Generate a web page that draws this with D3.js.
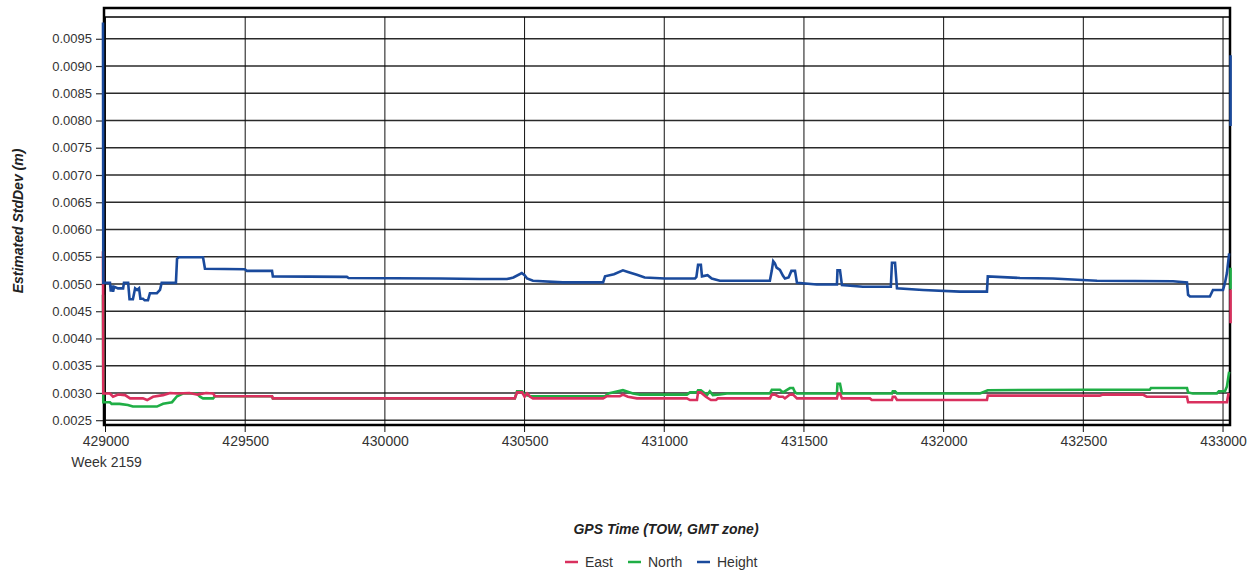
<!DOCTYPE html>
<html>
<head>
<meta charset="utf-8">
<script src="https://cdn.jsdelivr.net/npm/d3@7/dist/d3.min.js"></script>
<style>
  html, body { margin: 0; padding: 0; background: #ffffff; }
  svg { display: block; font-family: "Liberation Sans", Arial, sans-serif; }
</style>
</head>
<body>
<svg id="chart" width="1258" height="575"></svg>
<script>
// ---------- DATA ----------
const seriesNames = ["East", "North", "Height"];
const seriesColors = ["#d9305e", "#1fae45", "#1a4a9c"];

const xTickValues = [429000, 429500, 430000, 430500, 431000, 431500, 432000, 432500, 433000];
const yTickValues = [0.0025, 0.0030, 0.0035, 0.0040, 0.0045, 0.0050, 0.0055, 0.0060,
                     0.0065, 0.0070, 0.0075, 0.0080, 0.0085, 0.0090, 0.0095];
const weekLabel = "Week 2159";

const eastData = [
  [428991, 0.0056], [428992, 0.00299], [429016, 0.00299], [429027, 0.00293], [429045, 0.00297],
  [429070, 0.00296], [429088, 0.0029], [429134, 0.0029], [429149, 0.00287], [429170, 0.00293],
  [429206, 0.00296], [429231, 0.0030], [429256, 0.00299], [429300, 0.0030], [429330, 0.00297],
  [429360, 0.0030], [429385, 0.00299], [429392, 0.00294], [429596, 0.00294], [429599, 0.0029],
  [430465, 0.0029], [430473, 0.00301], [430491, 0.00301], [430500, 0.00293], [430509, 0.00299],
  [430520, 0.00293], [430530, 0.0029], [430781, 0.0029], [430795, 0.00294], [430841, 0.00294],
  [430852, 0.00297], [430870, 0.00293], [430902, 0.0029], [431081, 0.0029], [431092, 0.00287],
  [431117, 0.00287], [431121, 0.00301], [431131, 0.00301], [431149, 0.00293], [431167, 0.00287],
  [431185, 0.00287], [431192, 0.0029], [431378, 0.0029], [431385, 0.00297], [431396, 0.00297],
  [431410, 0.00293], [431425, 0.00293], [431432, 0.0029], [431450, 0.00297], [431461, 0.00297],
  [431475, 0.0029], [431618, 0.0029], [431622, 0.00299], [431629, 0.00299], [431636, 0.0029],
  [431736, 0.0029], [431743, 0.00287], [431815, 0.00287], [431818, 0.00293], [431826, 0.00293],
  [431833, 0.00287], [432155, 0.00287], [432158, 0.00295], [432559, 0.00295], [432570, 0.00297],
  [432713, 0.00297], [432727, 0.00293], [432871, 0.00293], [432875, 0.00283], [433014, 0.00283],
  [433020, 0.0030], [433022, null], [433027, 0.0049], [433027, 0.00428]
];

const northData = [
  [428991, 0.0048], [428992, 0.00283], [429016, 0.00283], [429022, 0.0028], [429050, 0.0028],
  [429080, 0.00278], [429098, 0.00275], [429184, 0.00275], [429206, 0.0028], [429238, 0.00283],
  [429256, 0.00294], [429277, 0.00299], [429327, 0.00299], [429338, 0.00293], [429349, 0.0029],
  [429385, 0.0029], [429392, 0.00294], [429596, 0.00294], [429599, 0.0029], [430465, 0.0029],
  [430473, 0.00303], [430491, 0.00303], [430500, 0.00297], [430520, 0.00294], [430788, 0.00294],
  [430800, 0.00299], [430852, 0.00305], [430888, 0.00299], [430913, 0.00297], [431081, 0.00297],
  [431092, 0.00301], [431117, 0.00301], [431121, 0.00305], [431131, 0.00305], [431153, 0.00296],
  [431163, 0.00303], [431174, 0.00296], [431199, 0.00297], [431224, 0.00299], [431378, 0.00299],
  [431385, 0.00306], [431414, 0.00306], [431425, 0.00301], [431450, 0.00309], [431461, 0.00309],
  [431468, 0.00301], [431475, 0.00299], [431618, 0.00299], [431620, 0.00317], [431629, 0.00317],
  [431636, 0.00299], [431815, 0.00299], [431818, 0.00303], [431826, 0.00303], [431833, 0.00299],
  [432130, 0.00299], [432158, 0.00305], [432513, 0.00306], [432738, 0.00306], [432742, 0.00309],
  [432871, 0.00309], [432875, 0.00301], [432892, 0.00299], [432978, 0.00299], [432985, 0.00303],
  [433007, 0.00303], [433014, 0.00312], [433022, 0.00339], [433023, null], [433027, 0.0053],
  [433027, 0.0049]
];

const heightData = [
  [428991, 0.0098], [428992, 0.00502], [429016, 0.00502], [429019, 0.00486], [429022, 0.00497],
  [429027, 0.00486], [429031, 0.00495], [429045, 0.00492], [429063, 0.00492], [429066, 0.00502],
  [429081, 0.00502], [429086, 0.00472], [429098, 0.00472], [429106, 0.00492], [429113, 0.00489],
  [429120, 0.00492], [429125, 0.00473], [429134, 0.00473], [429140, 0.0047], [429152, 0.0047],
  [429159, 0.00483], [429184, 0.00483], [429195, 0.00489], [429201, 0.00502], [429252, 0.00502],
  [429256, 0.00546], [429262, 0.00549], [429349, 0.00549], [429356, 0.00528], [429499, 0.00527],
  [429506, 0.00524], [429596, 0.00524], [429599, 0.00514], [429864, 0.00513], [429870, 0.00511],
  [430200, 0.0051], [430340, 0.00509], [430437, 0.00509], [430460, 0.00512], [430490, 0.0052],
  [430500, 0.00516], [430509, 0.0051], [430530, 0.00506], [430637, 0.00503], [430781, 0.00503],
  [430788, 0.00514], [430820, 0.00518], [430852, 0.00525], [430870, 0.00522], [430902, 0.00517],
  [430930, 0.00512], [431002, 0.0051], [431110, 0.0051], [431115, 0.00513], [431121, 0.00535],
  [431131, 0.00535], [431135, 0.00514], [431155, 0.00516], [431170, 0.0051], [431199, 0.00506],
  [431378, 0.00506], [431385, 0.00525], [431390, 0.00542], [431396, 0.00538], [431402, 0.0053],
  [431414, 0.00526], [431425, 0.00515], [431432, 0.0051], [431445, 0.00512], [431455, 0.00524],
  [431468, 0.00524], [431475, 0.00502], [431546, 0.00499], [431618, 0.00499], [431620, 0.00525],
  [431629, 0.00525], [431636, 0.00498], [431711, 0.00495], [431811, 0.00495], [431815, 0.00539],
  [431826, 0.00539], [431833, 0.00492], [431926, 0.00489], [432058, 0.00486], [432155, 0.00486],
  [432158, 0.00514], [432273, 0.00511], [432391, 0.0051], [432549, 0.00506], [432821, 0.00505],
  [432871, 0.00503], [432875, 0.0048], [432882, 0.00477], [432953, 0.00477], [432964, 0.00489],
  [433000, 0.00489], [433007, 0.00502], [433014, 0.0052], [433022, 0.00556], [433023, null],
  [433027, 0.0079], [433027, 0.0092]
];

const xDomain = [428991, 433025];
const yDomain = [0.00243, 0.0099];

// ---------- CHART ----------
const svg = d3.select("#chart");
const plotLeft = 103, plotRight = 1230, plotTop = 17, plotBottom = 424, frameTop = 8;

const x = d3.scaleLinear().domain(xDomain).range([plotLeft, plotRight]);
const y = d3.scaleLinear().domain(yDomain).range([plotBottom, plotTop]);

// horizontal gridlines
svg.append("g").selectAll("line").data(yTickValues).join("line")
  .attr("x1", plotLeft).attr("x2", plotRight)
  .attr("y1", d => y(d)).attr("y2", d => y(d))
  .attr("stroke", "#2a2a2a").attr("stroke-width", 1.5);

// vertical gridlines (extend below as ticks)
svg.append("g").selectAll("line").data(xTickValues).join("line")
  .attr("x1", d => x(d)).attr("x2", d => x(d))
  .attr("y1", plotTop).attr("y2", plotBottom + 8)
  .attr("stroke", "#111").attr("stroke-width", 1);

// Y axis
const yAxis = d3.axisLeft(y).tickValues(yTickValues).tickFormat(d3.format(".4f"))
  .tickSize(7).tickPadding(4);
const yg = svg.append("g").attr("transform", `translate(${plotLeft},0)`).call(yAxis);
yg.select(".domain").remove();
yg.selectAll(".tick line").attr("stroke", "#333").attr("stroke-width", 1.2);
yg.selectAll(".tick text").attr("font-size", 13).attr("fill", "#333")
  .attr("font-family", "'Liberation Sans', Arial, sans-serif");

// X axis labels
const xAxis = d3.axisBottom(x).tickValues(xTickValues).tickFormat(d3.format("d"))
  .tickSize(0).tickPadding(12);
const xg = svg.append("g").attr("transform", `translate(0,${plotBottom})`).call(xAxis);
xg.select(".domain").remove();
xg.selectAll(".tick text").attr("font-size", 14).attr("fill", "#333")
  .attr("font-family", "'Liberation Sans', Arial, sans-serif");

svg.append("text").attr("x", x(xTickValues[0]) + 1).attr("y", 467)
  .attr("text-anchor", "middle").attr("font-size", 14).attr("fill", "#333")
  .text(weekLabel);

// frame
svg.append("rect").attr("x", plotLeft + 1).attr("y", frameTop)
  .attr("width", plotRight - plotLeft - 1).attr("height", plotBottom - frameTop + 1)
  .attr("fill", "none").attr("stroke", "#000").attr("stroke-width", 2.5);
svg.append("line").attr("x1", plotLeft + 1).attr("x2", plotRight)
  .attr("y1", plotTop).attr("y2", plotTop).attr("stroke", "#000").attr("stroke-width", 1.5);

// series lines
const line = d3.line()
  .defined(d => d[1] !== null)
  .x(d => x(d[0])).y(d => y(d[1]));

const drawOrder = [
  { data: northData, color: seriesColors[1] },
  { data: eastData, color: seriesColors[0] },
  { data: heightData, color: seriesColors[2] }
];
svg.append("g").selectAll("path").data(drawOrder).join("path")
  .attr("d", d => line(d.data))
  .attr("fill", "none")
  .attr("stroke", d => d.color)
  .attr("stroke-width", 2.6)
  .attr("stroke-linejoin", "miter");

// axis titles
svg.append("text").attr("x", 666).attr("y", 534).attr("text-anchor", "middle")
  .attr("font-size", 14).attr("font-weight", "bold").attr("font-style", "italic")
  .attr("fill", "#222").text("GPS Time (TOW, GMT zone)");

svg.append("text").attr("transform", "translate(23,221) rotate(-90)")
  .attr("text-anchor", "middle")
  .attr("font-size", 14).attr("font-weight", "bold").attr("font-style", "italic")
  .attr("fill", "#222").text("Estimated StdDev (m)");

// legend
const legendX = [565, 628, 697];
const lg = svg.append("g").selectAll("g").data(seriesNames).join("g")
  .attr("transform", (d, i) => `translate(${legendX[i]},562)`);
lg.append("line").attr("x1", 0).attr("x2", 13).attr("y1", 0).attr("y2", 0)
  .attr("stroke", (d, i) => seriesColors[i]).attr("stroke-width", 2.5);
lg.append("text").attr("x", 20).attr("y", 5).attr("font-size", 14).attr("fill", "#333")
  .text(d => d);
</script>
</body>
</html>
